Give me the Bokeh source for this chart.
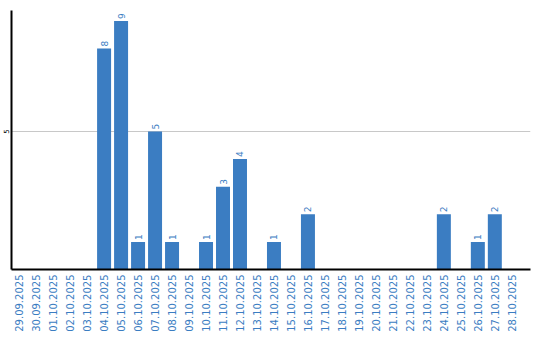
import math
from bokeh.plotting import figure
from bokeh.models import ColumnDataSource, Range1d, FixedTicker
from bokeh.core.properties import value
from bokeh.embed import file_html
from bokeh.resources import INLINE

dates = ["29.09.2025", "30.09.2025", "01.10.2025", "02.10.2025", "03.10.2025",
         "04.10.2025", "05.10.2025", "06.10.2025", "07.10.2025", "08.10.2025",
         "09.10.2025", "10.10.2025", "11.10.2025", "12.10.2025", "13.10.2025",
         "14.10.2025", "15.10.2025", "16.10.2025", "17.10.2025", "18.10.2025",
         "19.10.2025", "20.10.2025", "21.10.2025", "22.10.2025", "23.10.2025",
         "24.10.2025", "25.10.2025", "26.10.2025", "27.10.2025", "28.10.2025"]
counts = [0, 0, 0, 0, 0,
          8, 9, 1, 5, 1,
          0, 1, 3, 4, 0,
          1, 0, 2, 0, 0,
          0, 0, 0, 0, 0,
          2, 0, 1, 2, 0]

BLUE = "#3b7dc2"
FONT = "DejaVu Sans"

xs = list(range(len(dates)))
bar_src = ColumnDataSource(dict(x=[x for x, c in zip(xs, counts) if c > 0],
                                top=[c for c in counts if c > 0],
                                lbl=[str(c) for c in counts if c > 0]))

p = figure(width=540, height=340, output_backend="svg", toolbar_location=None,
           x_range=Range1d(-0.45, 30.1), y_range=Range1d(0, 9.38),
           min_border_left=10, min_border_right=10, min_border_top=10,
           min_border_bottom=71)
p.outline_line_color = None
p.background_fill_color = "white"
p.border_fill_color = "white"

p.vbar(x="x", top="top", width=14/17, source=bar_src, fill_color=BLUE, line_color=None)
p.text(x="x", y="top", text="lbl", source=bar_src, angle=math.pi/2,
       text_align="left", text_baseline="middle", y_offset=-2,
       text_font=value(FONT), text_font_size="9px", text_color=BLUE)

p.xgrid.grid_line_color = None
p.ygrid.ticker = FixedTicker(ticks=[5])
p.ygrid.grid_line_color = "#c8c8c8"
p.ygrid.grid_line_width = 1

xa = p.xaxis[0]
xa.ticker = FixedTicker(ticks=xs)
xa.major_label_overrides = {i: d for i, d in enumerate(dates)}
xa.major_label_orientation = math.pi/2
xa.major_label_text_color = BLUE
xa.major_label_text_font = FONT
xa.major_label_text_font_size = "10px"
xa.major_tick_line_color = None
xa.minor_tick_line_color = None
xa.major_tick_out = 0
xa.major_label_standoff = 5
xa.axis_line_color = "black"
xa.axis_line_width = 2

ya = p.yaxis[0]
ya.ticker = FixedTicker(ticks=[5])
ya.major_label_orientation = "vertical"
ya.major_label_text_font = FONT
ya.major_label_text_font_size = "7px"
ya.major_label_text_color = "black"
ya.major_tick_line_color = None
ya.minor_tick_line_color = None
ya.major_tick_out = 0
ya.major_label_standoff = 2
ya.axis_line_color = "black"
ya.axis_line_width = 2

open("out.html", "w").write(file_html(p, INLINE))
